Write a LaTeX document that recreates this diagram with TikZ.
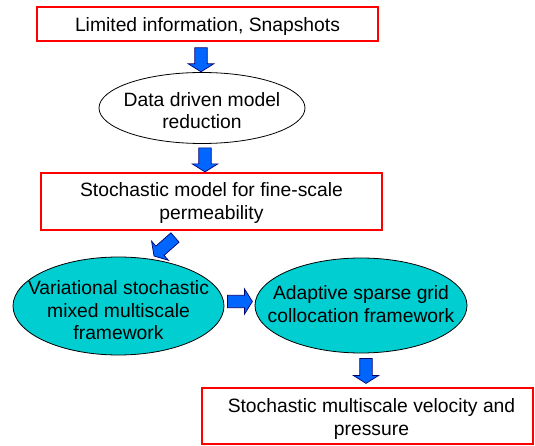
\documentclass[tikz,border=0pt]{standalone}
\usepackage{fontspec}
\setmainfont{Liberation Sans}
\usetikzlibrary{shapes.geometric,calc}
\definecolor{boxred}{RGB}{255,0,0}
\definecolor{arrblue}{RGB}{0,102,255}
\definecolor{arrnavy}{RGB}{0,0,110}
\definecolor{ellcyan}{RGB}{0,206,209}
\tikzset{
  txt/.style={font=\fontsize{19.3}{22.5}\selectfont, align=center, text=black, inner sep=0pt},
  redbox/.style={draw=boxred, line width=1.6pt, fill=white, inner sep=0pt},
  whiteell/.style={ellipse, draw=black, line width=0.8pt, fill=white, inner sep=0pt},
  cyanell/.style={ellipse, draw=black, line width=0.8pt, fill=ellcyan, inner sep=0pt},
  blkarrow/.style={draw=arrnavy, line width=0.7pt, fill=arrblue, line join=miter},
}
% block arrow: #1 tail coordinate, #2 tip coordinate
\newcommand\blockarrow[2]{%
  \coordinate (bT) at (#1);
  \coordinate (bP) at (#2);
  \coordinate (bH) at ($(bP)!8pt!(bT)$);
  \draw[blkarrow]
    ($(bT)!6.2pt!90:(bP)$) -- ($(bH)!6.2pt!-90:(bT)$) -- ($(bH)!12.8pt!-90:(bT)$)
    -- (bP) -- ($(bH)!12.8pt!90:(bT)$) -- ($(bH)!6.2pt!90:(bT)$)
    -- ($(bT)!6.2pt!-90:(bP)$) -- cycle;}
\begin{document}
\begin{tikzpicture}[x=1pt,y=-1pt]
\useasboundingbox (0,0) rectangle (535,446);

\node[redbox, minimum width=341pt, minimum height=34pt] (b1) at (207.5,24) {};
\node[txt] (t0) at ($(b1.center)+(0,2.5)$) {Limited information, Snapshots};
\node[whiteell, minimum width=206pt, minimum height=71pt] (e1) at (202,108) {};
\node[txt] (t1) at ($(e1.center)+(0,2.5)$) {Data driven model\\reduction};
\node[redbox, minimum width=341pt, minimum height=57pt] (b2) at (211.5,201.5) {};
\node[txt] (tb2) at ($(b2.center)+(0,1.5)$) {Stochastic model for fine-scale\\permeability};
\node[cyanell, minimum width=211pt, minimum height=98pt] (e2) at (118.5,306) {};
\node[txt] (t2) at ($(e2.center)+(0,4.5)$) {Variational stochastic\\mixed multiscale\\framework};
\node[cyanell, minimum width=212pt, minimum height=95pt] (e3) at (361,305.5) {};
\node[txt] (t3) at ($(e3.center)+(0,-1.5)$) {Adaptive sparse grid\\collocation framework};
\node[redbox, minimum width=331pt, minimum height=56pt] (b3) at (367.5,416) {};
\node[txt] (tb3) at ($(b3.center)+(4,3)$) {Stochastic multiscale velocity and\\pressure};

% block arrows between the nodes
\coordinate (a1t) at ($(b1.south)+(-6.5,6)$);
\coordinate (a1p) at ($(b1.south)+(-6.5,30)$);
\blockarrow{a1t}{a1p}
\coordinate (a2t) at ($(e1.south)+(3,4)$);
\coordinate (a2p) at ($(e1.south)+(3,28)$);
\blockarrow{a2t}{a2p}
\coordinate (a3t) at (175,237.5);
\coordinate (a3p) at (154,256);
\blockarrow{a3t}{a3p}
\coordinate (a4t) at ($(e2.east)+(3,-4.5)$);
\coordinate (a4p) at ($(e2.east)+(28,-4.5)$);
\blockarrow{a4t}{a4p}
\coordinate (a5t) at ($(e3.south)+(5,5)$);
\coordinate (a5p) at ($(e3.south)+(5,30)$);
\blockarrow{a5t}{a5p}
\end{tikzpicture}
\end{document}
